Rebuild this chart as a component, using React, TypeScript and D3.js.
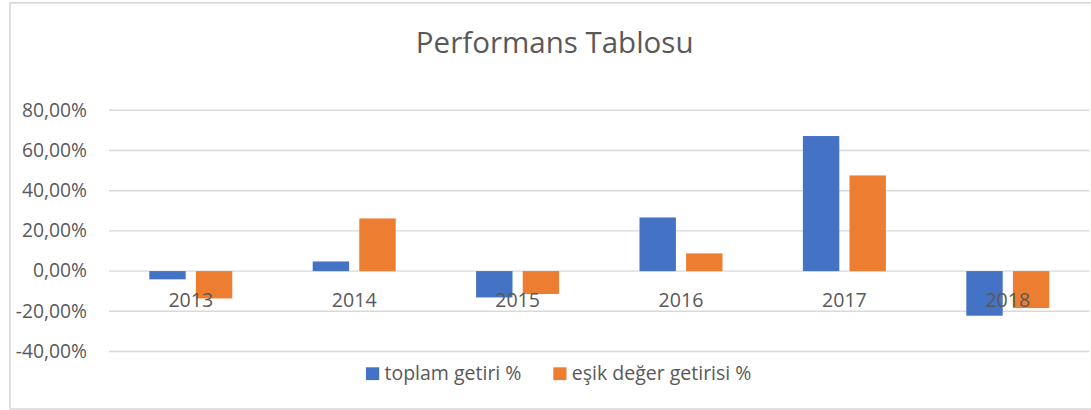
import React from "react";
import * as d3 from "d3";

const years = ["2013", "2014", "2015", "2016", "2017", "2018"];
const toplamGetiri = [-4.1, 4.8, -13.1, 26.7, 67.2, -22.2];
const esikDegerGetirisi = [-13.6, 26.2, -11.4, 8.8, 47.6, -18.4];
const seriesNames = ["toplam getiri %", "eşik değer getirisi %"];
const seriesColors = ["#4472C4", "#ED7D31"];
const yTicks = [-40, -20, 0, 20, 40, 60, 80];

const W = 1091;
const H = 410;
const FONT = "'Open Sans', sans-serif";
const TEXT = "#595959";
const GRID = "#d9d9d9";

export default function App() {
  const x = d3.scaleBand<string>().domain(years).range([109.1, 1089.5]).paddingInner(0).paddingOuter(0);
  const xs = d3.scaleBand<number>().domain([0, 1]).range([-41.5, 41.5]).paddingInner(0.219).paddingOuter(0);
  const y = d3.scaleLinear().domain([-40, 80]).range([351.5, 110.3]);
  const fmt = (v: number) => v.toFixed(2).replace(".", ",") + "%";
  const series = [toplamGetiri, esikDegerGetirisi];

  return (
    <svg width={W} height={H} style={{ position: "absolute", left: 0, top: 0, background: "#fff" }} fontFamily={FONT}>
      <rect x={10} y={2.8} width={1200} height={406.2} fill="#fff" stroke={GRID} strokeWidth={1.6} />
      <text x={554.7} y={52.7} textAnchor="middle" fontSize={29.5} fill={TEXT}>Performans Tablosu</text>
      {yTicks.map((t) => (
        <g key={t}>
          <line x1={109} x2={1089.5} y1={y(t)} y2={y(t)} stroke={GRID} strokeWidth={1.4} />
          <text x={87} y={y(t) + 6.2} textAnchor="end" fontSize={19.3} fill={TEXT}>{fmt(t)}</text>
        </g>
      ))}
      {years.map((yr, i) => (
        <g key={yr} transform={`translate(${(x(yr) as number) + x.bandwidth() / 2},0)`}>
          {series.map((s, j) => {
            const v = s[i];
            const y0 = y(0);
            const y1 = y(v);
            return (
              <rect key={j} x={xs(j) as number} width={xs.bandwidth()} y={Math.min(y0, y1)} height={Math.abs(y1 - y0)} fill={seriesColors[j]} />
            );
          })}
        </g>
      ))}
      {years.map((yr) => (
        <text key={yr} x={(x(yr) as number) + x.bandwidth() / 2} y={306.7} textAnchor="middle" fontSize={19.6} fill={TEXT}>{yr}</text>
      ))}
      {seriesNames.map((n, j) => {
        const lx = [366, 553.3][j];
        return (
          <g key={n}>
            <rect x={lx} y={367.3} width={13.2} height={12.8} fill={seriesColors[j]} />
            <text x={lx + 18.5} y={380.3} fontSize={19.5} fill={TEXT}>{n}</text>
          </g>
        );
      })}
    </svg>
  );
}
